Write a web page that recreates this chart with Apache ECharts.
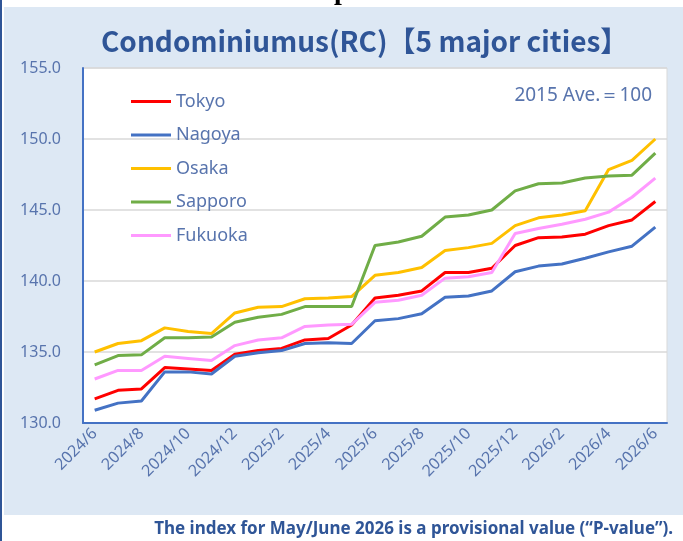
<!DOCTYPE html>
<html><head><meta charset="utf-8">
<script src="https://cdn.jsdelivr.net/npm/echarts@6/dist/echarts.min.js"></script>
<style>html,body{margin:0;padding:0;background:#fff}#c{width:683px;height:541px}</style>
</head><body><div id="c"></div>
<script>
const categories = ['2024/6','2024/7','2024/8','2024/9','2024/10','2024/11','2024/12','2025/1','2025/2','2025/3','2025/4','2025/5','2025/6','2025/7','2025/8','2025/9','2025/10','2025/11','2025/12','2026/1','2026/2','2026/3','2026/4','2026/5','2026/6'];
const tokyo   = [131.7,132.3,132.4,133.9,133.8,133.7,134.85,135.1,135.25,135.85,135.95,136.9,138.8,139.0,139.3,140.6,140.6,140.9,142.5,143.05,143.1,143.3,143.9,144.3,145.6];
const nagoya  = [130.9,131.4,131.55,133.6,133.6,133.45,134.7,134.95,135.1,135.6,135.65,135.6,137.2,137.35,137.7,138.85,138.95,139.3,140.65,141.05,141.2,141.6,142.05,142.45,143.8];
const osaka   = [135.0,135.6,135.8,136.7,136.45,136.3,137.75,138.15,138.2,138.75,138.8,138.9,140.4,140.6,140.95,142.15,142.35,142.65,143.9,144.45,144.65,144.95,147.85,148.5,150.0];
const sapporo = [134.1,134.75,134.8,136.0,136.0,136.05,137.1,137.45,137.65,138.2,138.2,138.2,142.5,142.75,143.15,144.5,144.65,145.0,146.35,146.85,146.9,147.25,147.4,147.45,149.0];
const fukuoka = [133.1,133.7,133.7,134.7,134.55,134.4,135.45,135.85,136.0,136.8,136.9,136.95,138.5,138.65,139.0,140.2,140.3,140.6,143.35,143.7,144.0,144.35,144.85,145.9,147.25];
const seriesNames = ['Tokyo','Nagoya','Osaka','Sapporo','Fukuoka'];
const seriesData = [tokyo, nagoya, osaka, sapporo, fukuoka];
const colors = ['#ff0000','#4472c4','#ffc000','#70ad47','#ff99ff'];
const labelColor = '#5874ad';

const chart = echarts.init(document.getElementById('c'), null, {renderer:'canvas'});
chart.setOption({
  animation:false,
  backgroundColor:'#ffffff',
  graphic:[
    {type:'rect', left:4, top:7, shape:{width:679, height:508}, style:{fill:'#dde8f4'}, z:-10},
    {type:'rect', left:0, top:0, shape:{width:2, height:541}, style:{fill:'#2f5597'}, z:-9},
    {type:'text', left:334, top:-22, style:{text:'p', font:'bold 28px "Liberation Serif"', fill:'#000'}},
    {type:'text', right:31, top:86, style:{text:'2015 Ave.＝100', font:'19px "Noto Sans"', fill:labelColor}},
    {type:'text', right:10, top:521, style:{text:'The index for May/June 2026 is a provisional value (“P-value”).', font:'bold 17px "Noto Sans"', fill:'#2f5597'}}
  ],
  title:{
    text:'Condominiumus(RC)【5 major cities】',
    left:96, top:22,
    textStyle:{fontFamily:'"Noto Sans CJK JP"', fontWeight:'bold', fontSize:28, color:'#2f5597'}
  },
  legend:{
    orient:'vertical', left:126, top:85, itemGap:10.5,
    itemWidth:40, itemHeight:3, icon:'rect',
    textStyle:{fontSize:18, color:labelColor, fontFamily:'"Noto Sans"', lineHeight:23},
    data:seriesNames
  },
  grid:{left:83, top:68, right:16, bottom:118, show:true, backgroundColor:'#ffffff', borderColor:'#d9d9d9', borderWidth:1},
  xAxis:{
    type:'category', data:categories, boundaryGap:true,
    axisLine:{lineStyle:{color:'#4472c4', width:2}},
    axisTick:{show:false},
    axisLabel:{interval:1, rotate:45, fontSize:16, color:labelColor, fontFamily:'"Noto Sans"', margin:8}
  },
  yAxis:{
    type:'value', min:130, max:155, interval:5,
    axisLine:{show:true, lineStyle:{color:'#4472c4', width:2}},
    axisTick:{show:false},
    axisLabel:{fontSize:16, color:labelColor, fontFamily:'"Noto Sans"', margin:22, formatter:v=>v.toFixed(1)},
    splitLine:{lineStyle:{color:'#d9d9d9', width:1.5}}
  },
  series: seriesNames.map((n,i)=>({
    name:n, type:'line', data:seriesData[i], symbol:'none',
    lineStyle:{color:colors[i], width:3}, itemStyle:{color:colors[i]}
  }))
});
</script></body></html>
